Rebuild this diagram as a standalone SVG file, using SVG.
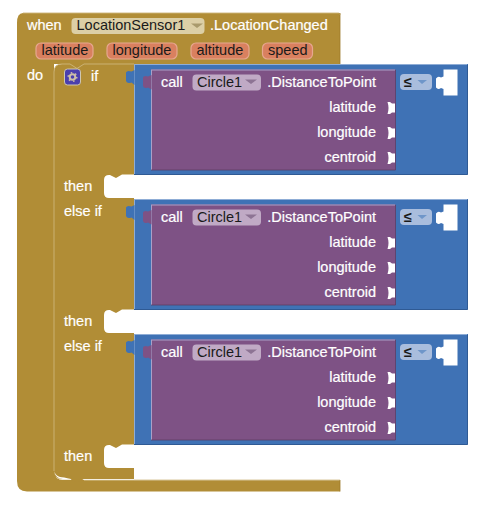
<svg xmlns="http://www.w3.org/2000/svg" xmlns:xlink="http://www.w3.org/1999/xlink" width="481" height="505" viewBox="0 0 481 505">
<style>
text{font-family:"Liberation Sans",Arial,sans-serif;font-size:14.5px}
.w{fill:#fff;stroke:#fff;stroke-width:.2px}
.k{fill:#1a1a1a}
.r{text-anchor:end}
.gold{fill:#b18d36}
.blue{fill:#3f72b5}
.bl{fill:none;stroke:#8fadd6;stroke-width:1px}
.bd{fill:none;stroke:#2f5a94;stroke-width:1px}
.purple{fill:#7e5285}
.pl{fill:none;stroke:#a9a0c8;stroke-width:1px}
.pd{fill:none;stroke:#5d3c63;stroke-width:.8px}
.var{fill:#d9805f;stroke:#e6a78f;stroke-width:1.2px}
.dd{fill:#c0aac5}
.dd2{fill:#a9bddd}
.arrow{fill:#8d7494}
.hl{fill:none;stroke:#cdb57c;stroke-width:.9px}
.sock{fill:#fff}
</style>
<defs>
<path id="s" class="sock" d="M387.500 0H390L392 1.500H395V10.500H392L390 12H387.500Q388.500 9 388.500 6Q388.500 3 387.500 0Z"/>
<path id="big" class="sock" d="M443.500 0H457.500V26H443.500V19.500L441 18.500Q438 20.500 436 18V9Q438 6 441 8L443.500 7Z"/>
<path id="bp" class="blue" d="M134.500 6L131.500 7.500Q127 6 126 8.500V17Q127 20 131.500 18.500L134.500 21Z"/>
<path id="pp" class="purple" d="M151.500 5.500L148 7Q144 5.500 143 8V16.500Q144 19.500 148 18L151.500 20Z"/>
</defs>
<g id="event-block">
<path class="gold" d="M23 13H340V64H54V470Q54 480 64 480H340V491.500H27Q17 491.500 17 481V23Q17 13 23 13Z"/>
<path class="hl" d="M23 13H338.500Q340 13 340 15"/>
<path d="M134 480H340" fill="none" stroke="#d8c79c" stroke-width="1"/>
<path d="M340 13V64M340 480V491.500" fill="none" stroke="#9c7a2a" stroke-width=".8"/>
<text class="w" x="27" y="30">when</text>
<rect x="71.500" y="18" width="133" height="16" rx="4" fill="#dccfa6"/>
<text class="k" x="76.500" y="30">LocationSensor1</text>
<path d="M191 23.500H203L197 28Z" fill="#a99a6c"/>
<text class="w" x="210" y="30">.LocationChanged</text>
<text class="w" x="27" y="80">do</text>
</g>
<g id="var-latitude"><rect class="var" x="36" y="43" width="57" height="16" rx="5"/><text class="k" x="41.500" y="55">latitude</text></g>
<g id="var-longitude"><rect class="var" x="107" y="43" width="70" height="16" rx="5"/><text class="k" x="112.500" y="55">longitude</text></g>
<g id="var-altitude"><rect class="var" x="191" y="43" width="58" height="16" rx="5"/><text class="k" x="196.500" y="55">altitude</text></g>
<g id="var-speed"><rect class="var" x="262.500" y="43" width="50" height="16" rx="5"/><text class="k" x="268" y="55">speed</text></g>
<g id="if-block">
<path class="gold" d="M62 64H134V174.500H122L116 178L110 175H109Q104 175 104 180V193Q104 198 109 198H134V309.500H122L116 313L110 310H109Q104 310 104 315V328Q104 333 109 333H134V444.500H122L116 448L110 445H109Q104 445 104 450V463Q104 468 109 468H134V479H84L77 483L70 479H62Q54 479 54 471V72Q54 64 62 64Z"/>
<path class="hl" d="M134 64H84L77 68.500L70 64H62Q54 64 54 72V471"/>
<path d="M54.500 472Q55.500 478.500 63 479H71Q63 477 60 477Q56 476 54.500 472Z" fill="#fff"/>
<path d="M62 479.500H71M84 479.800H134" fill="none" stroke="#f0e9d6" stroke-width="1"/>
<rect x="64.500" y="69" width="16" height="16" rx="3" fill="#4b3fae" stroke="#cfc7b0" stroke-width="1"/>
<circle cx="72.500" cy="77" r="2.800" fill="none" stroke="#cdbfa8" stroke-width="2"/>
<circle cx="72.500" cy="77" r="4.300" fill="none" stroke="#cdbfa8" stroke-width="1.500" stroke-dasharray="1.500 3"/>
<text class="w" x="91" y="81">if</text>
<text class="w" x="64" y="191">then</text>
<text class="w" x="64" y="216">else if</text>
<text class="w" x="64" y="326">then</text>
<text class="w" x="64" y="351">else if</text>
<text class="w" x="64" y="461">then</text>
</g>
<g id="compare-1">
<rect class="blue" x="134" y="64" width="334" height="110.500"/>
<path class="bl" d="M134 64.500H467M134.500 64V174"/><path class="bd" d="M467.500 65V174.500H134"/>
<use xlink:href="#bp" href="#bp" y="64"/>
<rect class="dd2" x="400" y="74" width="32" height="16" rx="4"/><text class="k" x="404" y="87" font-weight="bold">≤</text><path d="M417.500 80H427L422 84Z" fill="#6f96c9"/>
<use xlink:href="#big" href="#big" y="69.500"/>
</g>
<g id="call-1">
<rect class="purple" x="151" y="69.500" width="244.500" height="100.500"/>
<path class="pl" d="M151 70H395M151.500 70V170"/><path class="pd" d="M395.500 70V170H151"/>
<use xlink:href="#pp" href="#pp" y="69.500"/>
<text class="w" x="161" y="87">call</text>
<rect class="dd" x="192.500" y="74.500" width="68.500" height="16" rx="4"/><text class="k" x="197" y="87">Circle1</text>
<path d="M245 79.500H257L251 84Z" class="arrow"/>
<text class="w r" x="376" y="87">.DistanceToPoint</text>
<text class="w r" x="376" y="112">latitude</text>
<text class="w r" x="376" y="137">longitude</text>
<text class="w r" x="376" y="162">centroid</text>
<use xlink:href="#s" href="#s" y="102"/><use xlink:href="#s" href="#s" y="127"/><use xlink:href="#s" href="#s" y="152"/>
</g>
<g id="compare-2">
<rect class="blue" x="134" y="199" width="334" height="110.500"/>
<path class="bl" d="M134 199.500H467M134.500 199V309"/><path class="bd" d="M467.500 200V309.500H134"/>
<use xlink:href="#bp" href="#bp" y="199"/>
<rect class="dd2" x="400" y="209" width="32" height="16" rx="4"/><text class="k" x="404" y="222" font-weight="bold">≤</text><path d="M417.500 215H427L422 219Z" fill="#6f96c9"/>
<use xlink:href="#big" href="#big" y="204.500"/>
</g>
<g id="call-2">
<rect class="purple" x="151" y="204.500" width="244.500" height="100.500"/>
<path class="pl" d="M151 205H395M151.500 205V305"/><path class="pd" d="M395.500 205V305H151"/>
<use xlink:href="#pp" href="#pp" y="204.500"/>
<text class="w" x="161" y="222">call</text>
<rect class="dd" x="192.500" y="209.500" width="68.500" height="16" rx="4"/><text class="k" x="197" y="222">Circle1</text>
<path d="M245 214.500H257L251 219Z" class="arrow"/>
<text class="w r" x="376" y="222">.DistanceToPoint</text>
<text class="w r" x="376" y="247">latitude</text>
<text class="w r" x="376" y="272">longitude</text>
<text class="w r" x="376" y="297">centroid</text>
<use xlink:href="#s" href="#s" y="237"/><use xlink:href="#s" href="#s" y="262"/><use xlink:href="#s" href="#s" y="287"/>
</g>
<g id="compare-3">
<rect class="blue" x="134" y="334" width="334" height="110.500"/>
<path class="bl" d="M134 334.500H467M134.500 334V444"/><path class="bd" d="M467.500 335V444.500H134"/>
<use xlink:href="#bp" href="#bp" y="334"/>
<rect class="dd2" x="400" y="344" width="32" height="16" rx="4"/><text class="k" x="404" y="357" font-weight="bold">≤</text><path d="M417.500 350H427L422 354Z" fill="#6f96c9"/>
<use xlink:href="#big" href="#big" y="339.500"/>
</g>
<g id="call-3">
<rect class="purple" x="151" y="339.500" width="244.500" height="100.500"/>
<path class="pl" d="M151 340H395M151.500 340V440"/><path class="pd" d="M395.500 340V440H151"/>
<use xlink:href="#pp" href="#pp" y="339.500"/>
<text class="w" x="161" y="357">call</text>
<rect class="dd" x="192.500" y="344.500" width="68.500" height="16" rx="4"/><text class="k" x="197" y="357">Circle1</text>
<path d="M245 349.500H257L251 354Z" class="arrow"/>
<text class="w r" x="376" y="357">.DistanceToPoint</text>
<text class="w r" x="376" y="382">latitude</text>
<text class="w r" x="376" y="407">longitude</text>
<text class="w r" x="376" y="432">centroid</text>
<use xlink:href="#s" href="#s" y="372"/><use xlink:href="#s" href="#s" y="397"/><use xlink:href="#s" href="#s" y="422"/>
</g>
<g id="connectors"/>
</svg>
